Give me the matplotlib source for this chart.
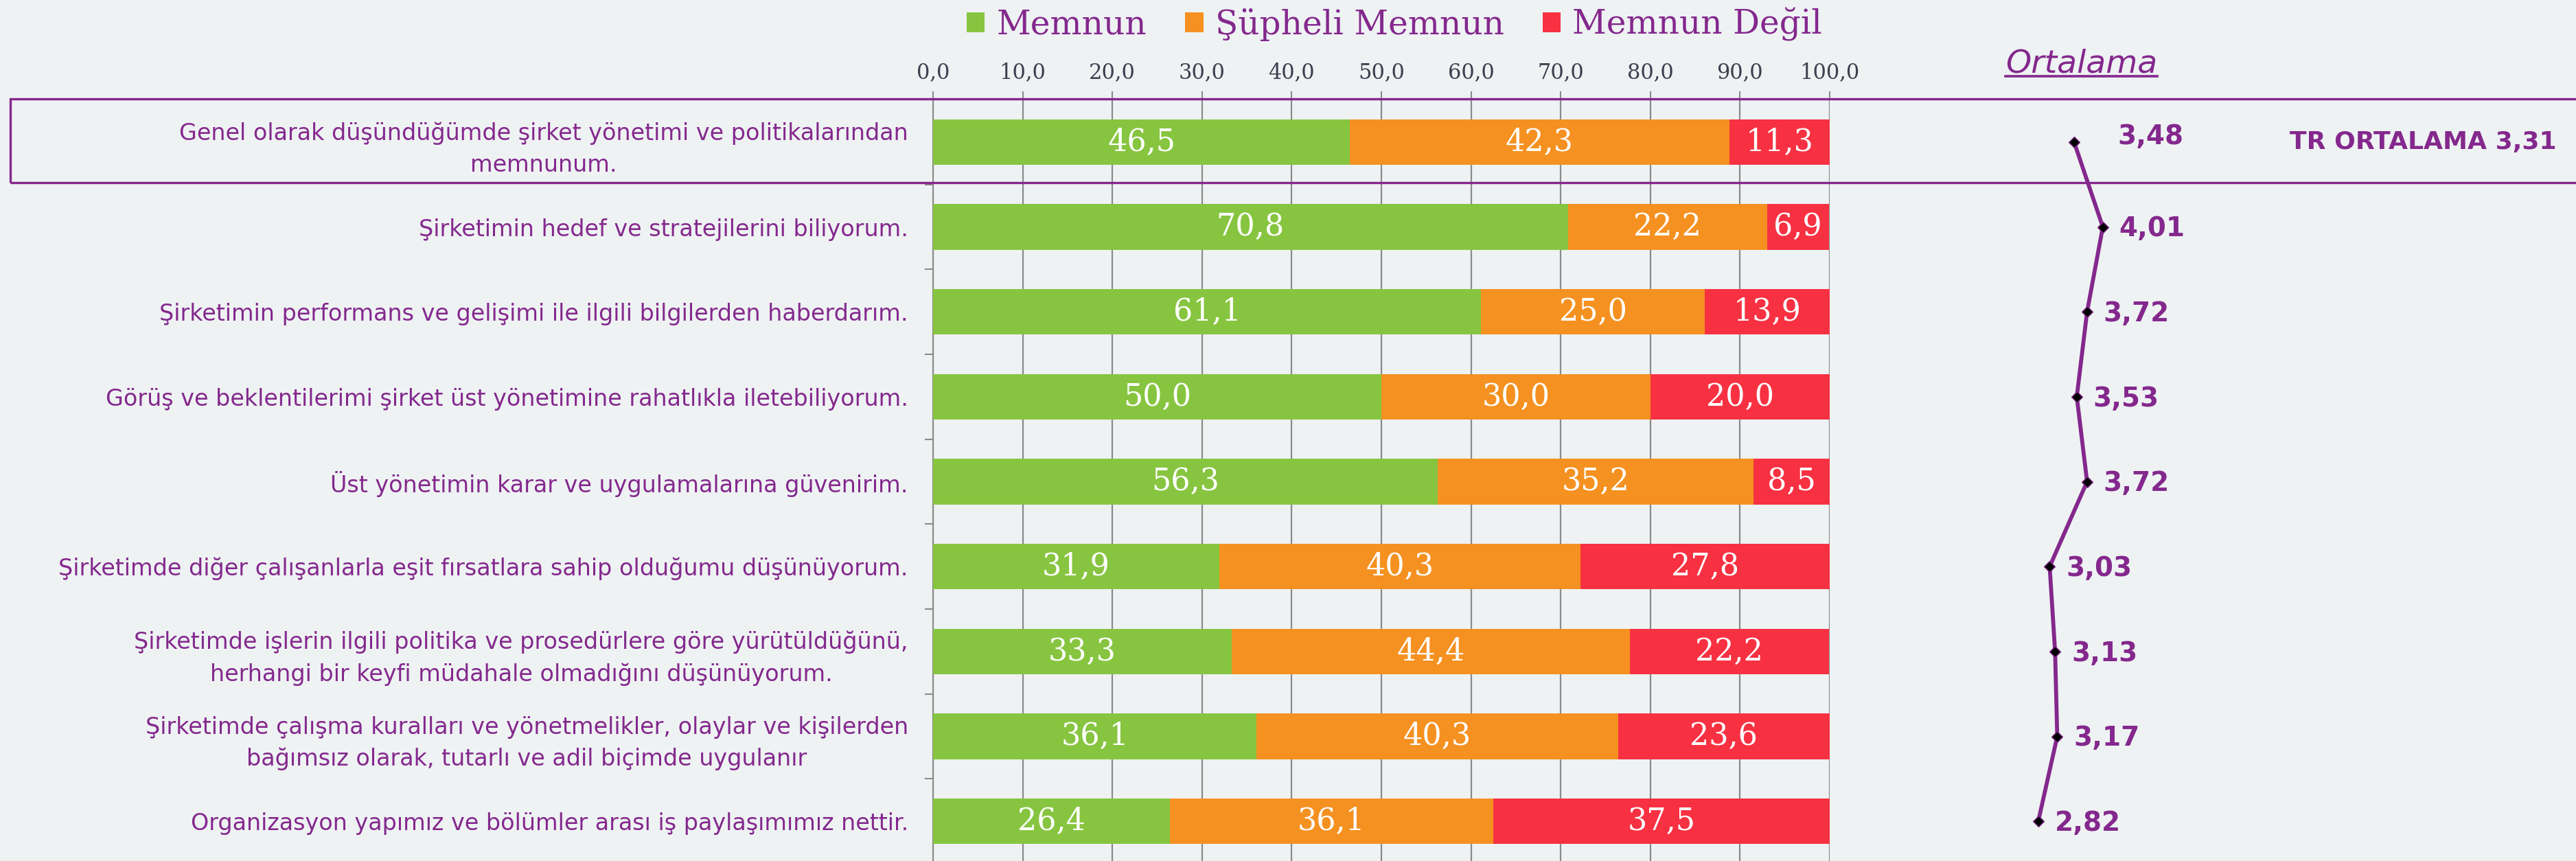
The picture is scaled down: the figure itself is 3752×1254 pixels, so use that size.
import matplotlib
matplotlib.use("Agg")
import matplotlib.pyplot as plt
from matplotlib.patches import Rectangle, Patch
from matplotlib.lines import Line2D
import numpy as np

categories = [
    "Genel olarak düşündüğümde şirket yönetimi ve politikalarından\nmemnunum.",
    "Şirketimin hedef ve stratejilerini biliyorum.",
    "Şirketimin performans ve gelişimi ile ilgili bilgilerden haberdarım.",
    "Görüş ve beklentilerimi şirket üst yönetimine rahatlıkla iletebiliyorum.",
    "Üst yönetimin karar ve uygulamalarına güvenirim.",
    "Şirketimde diğer çalışanlarla eşit fırsatlara sahip olduğumu düşünüyorum.",
    "Şirketimde işlerin ilgili politika ve prosedürlere göre yürütüldüğünü,\nherhangi bir keyfi müdahale olmadığını düşünüyorum.",
    "Şirketimde çalışma kuralları ve yönetmelikler, olaylar ve kişilerden\nbağımsız olarak, tutarlı ve adil biçimde uygulanır",
    "Organizasyon yapımız ve bölümler arası iş paylaşımımız nettir.",
]
memnun = [46.5, 70.8, 61.1, 50.0, 56.3, 31.9, 33.3, 36.1, 26.4]
supheli = [42.3, 22.2, 25.0, 30.0, 35.2, 40.3, 44.4, 40.3, 36.1]
degil = [11.3, 6.9, 13.9, 20.0, 8.5, 27.8, 22.2, 23.6, 37.5]
ortalama = [3.48, 4.01, 3.72, 3.53, 3.72, 3.03, 3.13, 3.17, 2.82]
series_names = ["Memnun", "Şüpheli Memnun", "Memnun Değil"]
x_ticks = [0, 10, 20, 30, 40, 50, 60, 70, 80, 90, 100]
tr_text = "TR ORTALAMA 3,31"
ort_title = "Ortalama"

BG = "#EEF2F3"
PURPLE = "#84288D"
COLORS = ["#87C540", "#F59120", "#F73142"]
TICKCOL = "#3F3F50"
GRID = "#8A8A8A"

W, H = 3752, 1254
fig = plt.figure(figsize=(W / 100, H / 100), dpi=100, facecolor=BG)

ax_top_px, ax_bot_px = 145, 1258
ax_left_px, ax_right_px = 1359, 2665
bottom = 1 - ax_bot_px / H
height = (ax_bot_px - ax_top_px) / H
ax = fig.add_axes([ax_left_px / W, bottom, (ax_right_px - ax_left_px) / W, height])
ax.set_facecolor(BG)

n = len(categories)
y = np.arange(n)
left = np.zeros(n)
for vals, col in zip([memnun, supheli, degil], COLORS):
    vals = np.array(vals)
    ax.barh(y, vals, left=left, height=0.535, color=col, zorder=3)
    for yi, l, v in zip(y, left, vals):
        ax.text(l + v / 2, yi, f"{v:.1f}".replace(".", ","), ha="center", va="center",
                color="white", fontsize=32, family="DejaVu Serif", zorder=4)
    left = left + vals

ax.set_xlim(0, 100)
ax.set_ylim(n - 0.5, -0.5)
ax.xaxis.tick_top()
ax.set_xticks(x_ticks)
ax.set_xticklabels([f"{t:.1f}".replace(".", ",") for t in x_ticks], family="DejaVu Serif",
                   fontsize=22, color=TICKCOL)
ax.tick_params(axis="x", direction="out", length=9, width=1.5, color=GRID, pad=8)
ax.grid(axis="x", color=GRID, linewidth=1.6, zorder=0)

ax.set_yticks(y)
ax.set_yticklabels(categories, fontsize=24, color=PURPLE, family="DejaVu Sans")
for t in ax.get_yticklabels():
    t.set_multialignment("center")
    t.set_linespacing(1.5)
ax.tick_params(axis="y", which="major", length=0, pad=26)
ax.set_yticks(np.arange(n + 1) - 0.5, minor=True)
ax.tick_params(axis="y", which="minor", direction="out", length=9, width=1.5, color=GRID)

for s in ["right", "bottom"]:
    ax.spines[s].set_visible(False)
for s in ["left", "top"]:
    ax.spines[s].set_color(GRID)
    ax.spines[s].set_linewidth(1.5)

# Line chart of averages
l2_px, r2_px = 2746, 3141
ax2 = fig.add_axes([l2_px / W, bottom, (r2_px - l2_px) / W, height], sharey=ax)
ax2.set_xlim(0, 5)
ax2.patch.set_alpha(0)
ax2.axis("off")
ax2.plot(ortalama, y, color=PURPLE, linewidth=4.2, marker="D", markersize=8,
         markerfacecolor="black", markeredgecolor=PURPLE, markeredgewidth=1, zorder=5)
for i, (v, yi) in enumerate(zip(ortalama, y)):
    off = (46, 6) if i == 0 else (17, -2)
    ax2.annotate(f"{v:.2f}".replace(".", ","), (v, yi), xytext=off, textcoords="offset points",
                 ha="left", va="center", fontsize=28, fontweight="bold", color=PURPLE,
                 family="DejaVu Sans")

# Highlight box around first row
box_top = 144
box_bot = 266
fig.add_artist(Rectangle((15 / W, 1 - box_bot / H), 1.0, (box_bot - box_top) / H,
                         transform=fig.transFigure, fill=False, edgecolor=PURPLE,
                         linewidth=2.4, zorder=10))

fig.text(3529 / W, 1 - 207 / H, tr_text, ha="center", va="center", fontsize=26,
         fontweight="bold", color=PURPLE, family="DejaVu Sans")

# Ortalama title with underline
t = fig.text(2921 / W, 1 - 105 / H, ort_title, ha="left", va="baseline", fontsize=34,
             style="italic", color=PURPLE, family="DejaVu Sans")
fig.canvas.draw()
bb = t.get_window_extent()
uy = 1 - 111 / H
fig.add_artist(Line2D([bb.x0 / W, bb.x1 / W], [uy, uy], transform=fig.transFigure,
                      color=PURPLE, linewidth=2.6))

# Legend
handles = [Patch(facecolor=c, edgecolor="none") for c in COLORS]
leg = fig.legend(handles, series_names, loc="center", bbox_to_anchor=(2031 / W, 1 - 36 / H),
                 ncol=3, frameon=False, handlelength=0.55, handleheight=0.55,
                 handletextpad=0.35, columnspacing=1.15,
                 prop={"family": "DejaVu Serif", "size": 35})
for txt in leg.get_texts():
    txt.set_color(PURPLE)

fig.savefig("out.png", dpi=100, facecolor=BG)
